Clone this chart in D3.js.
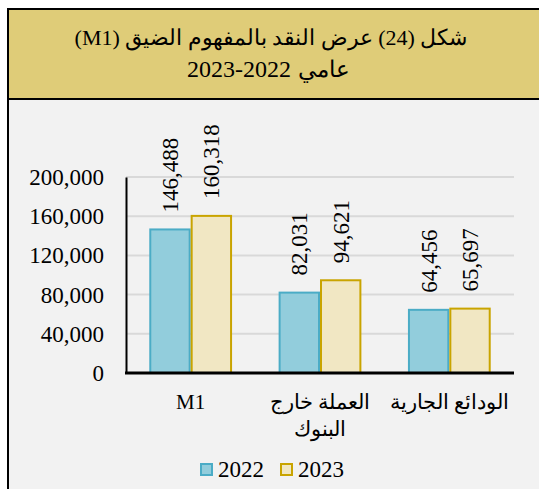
<!DOCTYPE html>
<html>
<head>
<meta charset="utf-8">
<script src="https://cdn.jsdelivr.net/npm/d3@7"></script>
<style>
  body { margin: 0; background: #fff; }
  svg text { font-family: "Liberation Serif", "Times New Roman", serif; fill: #000; }
</style>
</head>
<body>
<div id="graph"></div>
<script>
// data
const categories = ["M1", "العملة خارج البنوك", "الودائع الجارية"];
const catLines = [["M1"], ["العملة خارج", "البنوك"], ["الودائع الجارية"]];
const years = ["2022", "2023"];
const values2022 = [146488, 82031, 64456];
const values2023 = [160318, 94621, 65697];
const yTicks = [0, 40000, 80000, 120000, 160000, 200000];
const titleLine1 = "شكل (24) عرض النقد بالمفهوم الضيق (M1)";
const titleWord2 = "عامي";
const titleYears = "2023-2022";

const FONT = '"Liberation Serif", "Times New Roman", serif';
const W = 539, H = 489;
let margin = {top: 177, right: 25, bottom: 116, left: 126};
let width = W - margin.left - margin.right,
    height = H - margin.top - margin.bottom;

let svg = d3.select("#graph").append("svg")
  .attr("width", W).attr("height", H);

// frame + header
svg.append("rect").attr("x", 8).attr("y", 9).attr("width", W + 10).attr("height", H + 10)
  .attr("fill", "#f2f2f2").attr("stroke", "#000").attr("stroke-width", 2);
svg.append("rect").attr("x", 8).attr("y", 9).attr("width", W + 10).attr("height", 90)
  .attr("fill", "#dfcc78").attr("stroke", "#000").attr("stroke-width", 2);

svg.append("text")
  .attr("x", 271).attr("y", 45)
  .attr("text-anchor", "middle").attr("direction", "rtl")
  .style("font-family", FONT).style("font-size", "22px")
  .text(titleLine1);
// second line in two pieces so the year range keeps its visual order
svg.append("text")
  .attr("x", 291).attr("y", 77).attr("text-anchor", "end")
  .style("font-family", FONT).style("font-size", "24px")
  .text(titleYears);
svg.append("text")
  .attr("x", 298).attr("y", 77).attr("text-anchor", "start")
  .style("font-family", FONT).style("font-size", "23px")
  .text(titleWord2);

let g = svg.append("g").attr("transform", `translate(${margin.left},${margin.top})`);

let x = d3.scaleBand().domain(categories).range([0, width]).paddingInner(0.36).paddingOuter(0.18);
let x1 = d3.scaleBand().domain(years).range([0, x.bandwidth()]);
let y = d3.scaleLinear().domain([0, 200000]).range([height, 0]);

// grid
g.selectAll(".grid").data(yTicks.slice(1)).join("line")
  .attr("x1", 0).attr("x2", width)
  .attr("y1", d => y(d)).attr("y2", d => y(d))
  .attr("stroke", "#d9d9d9").attr("stroke-width", 2);

// y axis
let yAxis = g.append("g").call(d3.axisLeft(y).tickValues(yTicks).tickSize(0).tickPadding(22)
  .tickFormat(d3.format(",")));
yAxis.attr("font-family", null);
yAxis.select(".domain").attr("stroke", "#000").attr("stroke-width", 2);
yAxis.selectAll("text").style("font-family", FONT).style("font-size", "23px").attr("dy", "0.33em");

const series = [
  {year: "2022", vals: values2022, fill: "#92cddc", stroke: "#4bacc6"},
  {year: "2023", vals: values2023, fill: "#f1e7c3", stroke: "#c9a400"}
];

series.forEach(s => {
  g.selectAll(".bar" + s.year).data(categories).join("rect")
    .attr("x", c => x(c) + x1(s.year) + 1)
    .attr("y", (c, i) => y(s.vals[i]))
    .attr("width", x1.bandwidth() - 2)
    .attr("height", (c, i) => height - y(s.vals[i]))
    .attr("fill", s.fill).attr("stroke", s.stroke).attr("stroke-width", 2);

  g.selectAll(".lab" + s.year).data(categories).join("text")
    .attr("transform", (c, i) => `translate(${x(c) + x1(s.year) + x1.bandwidth() / 2 + 8},${y(s.vals[i]) - 17}) rotate(-90)`)
    .style("font-family", FONT).style("font-size", "23px")
    .text((c, i) => d3.format(",")(s.vals[i]));
});

// x axis baseline
g.append("line").attr("x1", -1).attr("x2", width).attr("y1", height).attr("y2", height)
  .attr("stroke", "#000").attr("stroke-width", 3);

// category labels
categories.forEach((c, i) => {
  g.append("text")
    .attr("x", x(c) + x.bandwidth() / 2).attr("y", height + 36)
    .attr("text-anchor", "middle").attr("direction", "rtl")
    .style("font-family", FONT).style("font-size", "21px")
    .selectAll("tspan").data(catLines[i]).join("tspan")
    .attr("x", x(c) + x.bandwidth() / 2)
    .attr("dy", (d, j) => j ? 27 : 0)
    .text(d => d);
});

// legend
let legend = svg.append("g").attr("transform", "translate(201,464)");
series.forEach((s, i) => {
  let lg = legend.append("g").attr("transform", `translate(${i * 80},0)`);
  lg.append("rect").attr("width", 11).attr("height", 11)
    .attr("fill", s.fill).attr("stroke", s.stroke).attr("stroke-width", 2);
  lg.append("text").attr("x", 17).attr("y", 13)
    .style("font-family", FONT).style("font-size", "23px").text(s.year);
});
</script>
</body>
</html>
